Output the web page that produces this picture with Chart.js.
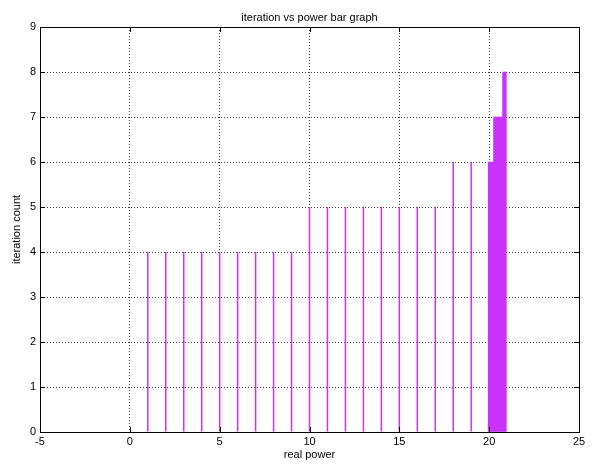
<!DOCTYPE html>
<html>
<head>
<meta charset="utf-8">
<script src="https://cdn.jsdelivr.net/npm/chart.js@4.4.1/dist/chart.umd.min.js"></script>
<style>
  html, body { margin: 0; padding: 0; background: #ffffff; }
  #wrap { width: 592px; height: 466px; }
</style>
</head>
<body>
<div id="wrap"><canvas id="c" width="592" height="466"></canvas></div>
<script>
// ---- data ----
const realPowerSparse = [1, 2, 3, 4, 5, 6, 7, 8, 9, 10, 11, 12, 13, 14, 15, 16, 17, 18, 19];
const iterationSparse = [4, 4, 4, 4, 4, 4, 4, 4, 4, 5, 5, 5, 5, 5, 5, 5, 5, 6, 6];
const realPowerDense = [20.0, 20.1, 20.2, 20.3, 20.4, 20.5, 20.6, 20.7, 20.8, 20.9];
const iterationDense = [6, 6, 6, 7, 7, 7, 7, 7, 8, 8];
const xTickValues = [-5, 0, 5, 10, 15, 20, 25];
const yTickValues = [0, 1, 2, 3, 4, 5, 6, 7, 8, 9];

const chartTitle = 'iteration vs power bar graph';
const xTitle = 'real power';
const yTitle = 'iteration count';

const FONT = "'Liberation Sans Narrow', 'Arial Narrow', 'Liberation Sans', Arial, sans-serif";
const FSIZE = 11;
const barColor = '#c933fa';
const gridColor = 'rgba(0,0,0,0.75)';

const sparsePoints = realPowerSparse.map((x, i) => ({ x: x, y: iterationSparse[i] }));
const densePoints = realPowerDense.map((x, i) => ({ x: x, y: iterationDense[i] }));

const innerTicks = {
  id: 'innerTicks',
  afterDatasetsDraw(chart) {
    const { ctx, chartArea: a, scales } = chart;
    const len = 5;
    ctx.save();
    ctx.strokeStyle = '#000';
    ctx.lineWidth = 1;
    ctx.beginPath();
    xTickValues.forEach(v => {
      const px = Math.round(scales.x.getPixelForValue(v)) + 0.5;
      ctx.moveTo(px, a.bottom); ctx.lineTo(px, a.bottom - len);
      ctx.moveTo(px, a.top); ctx.lineTo(px, a.top + len);
    });
    yTickValues.forEach(v => {
      const py = Math.round(scales.y.getPixelForValue(v)) + 0.5;
      ctx.moveTo(a.left, py); ctx.lineTo(a.left + len, py);
      ctx.moveTo(a.right, py); ctx.lineTo(a.right - len, py);
    });
    ctx.stroke();
    ctx.strokeRect(Math.round(a.left) + 0.5, Math.round(a.top) + 0.5,
                   Math.round(a.right - a.left), Math.round(a.bottom - a.top));
    ctx.restore();
  }
};

new Chart(document.getElementById('c'), {
  type: 'bar',
  data: {
    datasets: [{
      data: sparsePoints,
      backgroundColor: barColor,
      borderWidth: 0,
      barThickness: 1.5,
      inflateAmount: 0,
      grouped: false
    }, {
      data: densePoints,
      backgroundColor: barColor,
      borderWidth: 0,
      barThickness: 2,
      grouped: false
    }]
  },
  options: {
    responsive: false,
    animation: false,
    layout: { padding: 0 },
    plugins: {
      legend: { display: false },
      tooltip: { enabled: false },
      title: { display: false }
    },
    scales: {
      x: {
        type: 'linear',
        position: 'bottom',
        min: -5, max: 25,
        offset: false,
        afterFit(s) { s.height = 34; },
        ticks: { stepSize: 5, color: '#000', padding: 3, font: { family: FONT, size: FSIZE } },
        grid: { offset: false, color: gridColor, lineWidth: 1, drawTicks: false },
        border: { display: true, color: '#000', dash: [1, 2] },
        title: { display: true, text: xTitle, color: '#000',
                 font: { family: FONT, size: FSIZE }, padding: { top: 0, bottom: 4 } }
      },
      x2: {
        type: 'linear',
        position: 'top',
        min: -5, max: 25,
        afterFit(s) { s.height = 27; },
        ticks: { display: false },
        grid: { display: false },
        border: { display: true, color: '#000' },
        title: { display: true, text: chartTitle, color: '#000',
                 font: { family: FONT, size: FSIZE }, padding: { top: 11, bottom: 0 } }
      },
      y: {
        type: 'linear',
        position: 'left',
        min: 0, max: 9,
        afterFit(s) { s.width = 40; },
        ticks: { stepSize: 1, color: '#000', padding: 4, font: { family: FONT, size: FSIZE } },
        grid: { color: gridColor, lineWidth: 1, drawTicks: false },
        border: { display: true, color: '#000', dash: [1, 2] },
        title: { display: true, text: yTitle, color: '#000',
                 font: { family: FONT, size: FSIZE }, padding: { top: 10, bottom: 0 } }
      },
      y2: {
        type: 'linear',
        position: 'right',
        min: 0, max: 9,
        afterFit(s) { s.width = 13; },
        ticks: { display: false },
        grid: { display: false },
        border: { display: true, color: '#000' }
      }
    }
  },
  plugins: [innerTicks]
});
</script>
</body>
</html>
